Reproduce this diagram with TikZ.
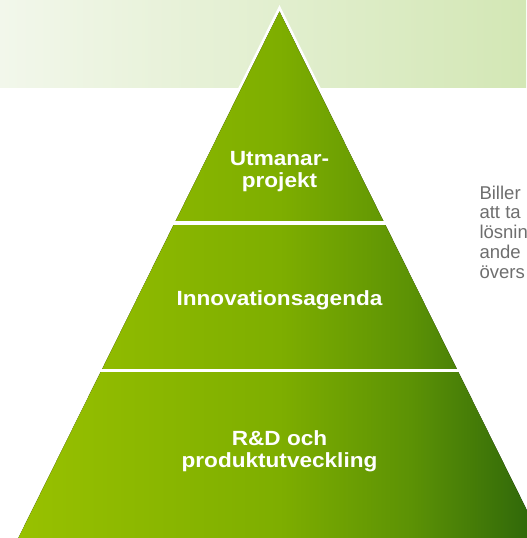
\documentclass[tikz,border=0pt]{standalone}
\usepackage{fontspec}
\setmainfont{Liberation Sans}
\newfontfamily\bandfont[FakeStretch=1.1]{Liberation Sans}

\definecolor{bandleft}{RGB}{242,247,235}
\definecolor{bandright}{RGB}{211,231,181}
\definecolor{pyrleft}{RGB}{152,193,0}
\definecolor{pyrmid}{RGB}{126,174,0}
\definecolor{pyrdeep}{RGB}{92,146,5}
\definecolor{pyrright}{RGB}{44,100,10}
\definecolor{sidegray}{RGB}{110,110,110}

% horizontal green ramp of the pyramid (path box = 25bp..75bp)
\pgfdeclarehorizontalshading{pyramidramp}{100bp}{%
  color(0bp)=(pyrleft); color(25bp)=(pyrleft); color(50bp)=(pyrmid);
  color(62.5bp)=(pyrdeep); color(75bp)=(pyrright); color(100bp)=(pyrright)}

\tikzset{every picture/.style={line width=0.75pt}}
\tikzset{
  bandlabel/.style={inner sep=0.75pt, align=center, text=white,
    font=\bandfont\bfseries\fontsize{15.4}{16.1}\selectfont},
  sidetext/.style={inner sep=0pt, anchor=base west, text=sidegray,
    font=\fontsize{13.9}{14.8}\selectfont}
}

\begin{document}
\begin{tikzpicture}[x=0.75pt,y=0.75pt,yscale=-1,xscale=1]
    \path[use as bounding box] (0,0) rectangle (526,538);

    %Shape: Rectangle [id:top band]
    \fill[left color=bandleft, right color=bandright] (0,0) rectangle (526,88);

    %Shape: Triangle [id:white rim]
    \fill[white] (279.5,5) -- (539.7,530) -- (539.7,545) -- (19.3,545) -- (19.3,530) -- cycle;
    %Shape: Triangle [id:pyramid]
    \fill[shading=pyramidramp] (279.5,11.5) -- (541.7,540) -- (17.3,540) -- cycle;

    %Straight Lines [id:upper cut]
    \draw[white, line width=2.6pt] (150,223) -- (410,223);
    %Straight Lines [id:lower cut]
    \draw[white, line width=2.4pt] (80,370.7) -- (480,370.7);

    % Text Node
    \draw (279.5,171.5) node (utmanar) [bandlabel] {Utmanar-\\projekt};
    % Text Node
    \draw (279.5,300.7) node (agenda) [bandlabel] {Innovationsagenda};
    % Text Node
    \draw (279.5,451) node (rnd) [bandlabel] {R\&D och\\produktutveckling};

    % Text Nodes (cut at the right edge)
    \foreach \t [count=\i] in {Biller, att ta, lösnin, ande, övers}
        \draw (479,{199.3+19.7*(\i-1)}) node (side\i) [sidetext] {\t};

\end{tikzpicture}
\end{document}
